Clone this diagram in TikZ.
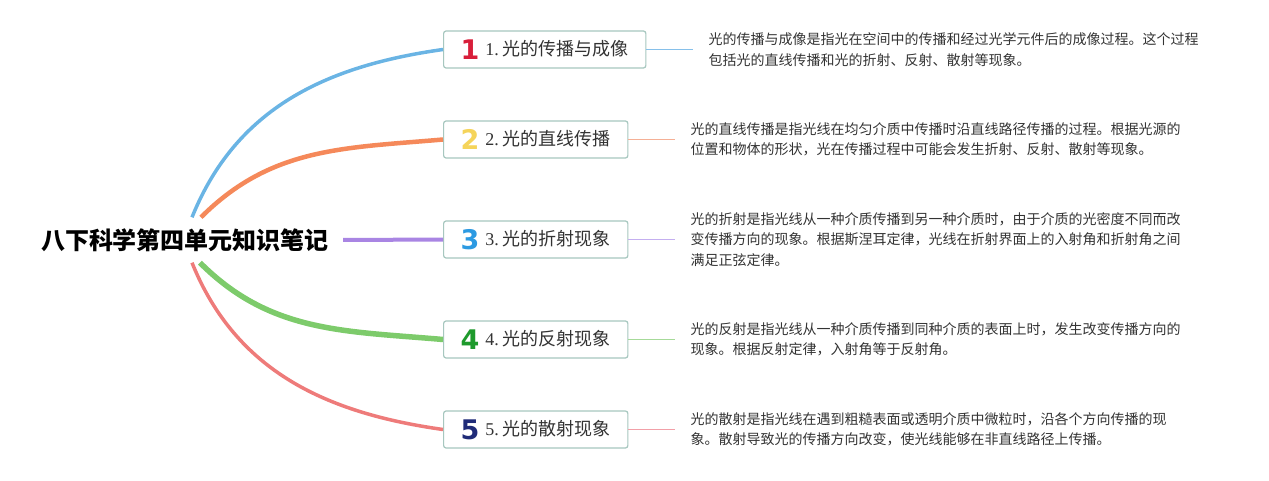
\documentclass[tikz,border=0pt]{standalone}
\usepackage{fontspec}
\usepackage{xcolor}
\usepackage{tikz}
\usetikzlibrary{positioning}
\setmainfont{Liberation Serif}
\newfontfamily\cjk{Noto Sans CJK SC}
\newfontfamily\numfont{DejaVu Sans}[BoldFont={DejaVu Sans Bold}]
\definecolor{azul}{HTML}{6AB4E4}
\definecolor{naranja}{HTML}{F5895A}
\definecolor{morado}{HTML}{A985E3}
\definecolor{verde}{HTML}{7DCB6B}
\definecolor{rojo}{HTML}{EE7B7A}
\definecolor{azulc}{HTML}{86C0EA}
\definecolor{naranjac}{HTML}{F5B096}
\definecolor{moradoc}{HTML}{C4AFF0}
\definecolor{verdec}{HTML}{A6DA99}
\definecolor{rojoc}{HTML}{F2A0A8}
\definecolor{numuno}{HTML}{D81E3A}
\definecolor{numdos}{HTML}{F5D45A}
\definecolor{numtres}{HTML}{2C9AE2}
\definecolor{numcuatro}{HTML}{1E9A2C}
\definecolor{numcinco}{HTML}{1F2B78}
\definecolor{cajaborde}{HTML}{A7C7BF}

\begin{document}
\begin{tikzpicture}[x=1pt,y=1pt,
  caja/.style={draw=cajaborde, line width=1.2pt, rounded corners=2.5pt, fill=white,
    minimum height=37pt, inner xsep=17pt, inner ysep=0pt, anchor=west,
    text=black!80, font=\fontsize{18}{18}\selectfont},
  nota/.style={anchor=west, align=left, inner xsep=15pt, inner ysep=0pt,
    text=black!80, font=\cjk\fontsize{14}{20.5}\selectfont},
  rama/.style={line width=#1}]
  \useasboundingbox (0,0) rectangle (1269,480);

  % Tema central
  \node[font=\cjk\bfseries\fontsize{24}{24}\selectfont, minimum height=45pt,
    inner xsep=14pt] (titulo) at (185,240) {八下科学第四单元知识笔记};

  % Temas y notas
  \foreach \i/\y/\cn/\cl/\tit/\txt in {
    1/430.5/numuno/azulc/{光的传播与成像}/{光的传播与成像是指光在空间中的传播和经过光学元件后的成像过程。这个过程\\包括光的直线传播和光的折射、反射、散射等现象。},
    2/340.5/numdos/naranjac/{光的直线传播}/{光的直线传播是指光线在均匀介质中传播时沿直线路径传播的过程。根据光源的\\位置和物体的形状，光在传播过程中可能会发生折射、反射、散射等现象。},
    3/240.5/numtres/moradoc/{光的折射现象}/{光的折射是指光线从一种介质传播到另一种介质时，由于介质的光密度不同而改\\变传播方向的现象。根据斯涅耳定律，光线在折射界面上的入射角和折射角之间\\满足正弦定律。},
    4/140.5/numcuatro/verdec/{光的反射现象}/{光的反射是指光线从一种介质传播到同种介质的表面上时，发生改变传播方向的\\现象。根据反射定律，入射角等于反射角。},
    5/50.5/numcinco/rojoc/{光的散射现象}/{光的散射是指光线在遇到粗糙表面或透明介质中微粒时，沿各个方向传播的现\\象。散射导致光的传播方向改变，使光线能够在非直线路径上传播。}}{
    \node[caja] (b\i) at (443,\y)
      {\raisebox{-4pt}{\numfont\bfseries\fontsize{27}{27}\selectfont\color{\cn}\i}\hspace{6pt}\i.\hspace{4pt}{\cjk\tit}};
    \node[nota, right=47pt of b\i] (d\i) {\txt};
    \draw[line width=1.5pt, \cl] (b\i) -- (d\i);
  }

  % Ramas
  \draw[rama=3.5pt, azul] ([xshift=7pt]titulo.north) to[out=68,in=188] (b1.west);
  \draw[rama=4.5pt, naranja] ([xshift=16pt]titulo.north) to[out=45,in=185] (b2.west);
  \draw[rama=4pt, morado] (titulo.east) -- (b3.west);
  \draw[rama=5.5pt, verde] ([xshift=15pt]titulo.south) to[out=-45,in=175] (b4.west);
  \draw[rama=3.5pt, rojo] ([xshift=7pt]titulo.south) to[out=-68,in=172] (b5.west);
\end{tikzpicture}
\end{document}
